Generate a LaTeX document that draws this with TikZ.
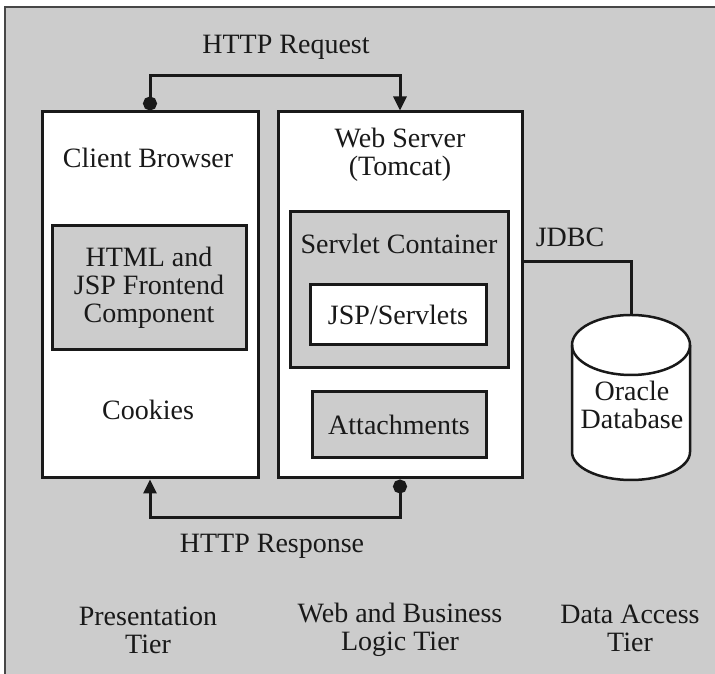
\documentclass[tikz,border=0pt]{standalone}
\usepackage{fontspec}
\setmainfont{Liberation Serif}
\usetikzlibrary{arrows.meta}
\definecolor{bggray}{RGB}{204,204,204}
\definecolor{ink}{RGB}{25,25,25}
\begin{document}
\begin{tikzpicture}[x=1pt,y=1pt,
  txt/.style={font=\fontsize{28}{28}\selectfont, text=ink, align=center, inner sep=0pt},
  bigbox/.style={draw=ink, line width=3pt, fill=white, rectangle, inner sep=0pt},
  graybox/.style={draw=ink, line width=3pt, fill=bggray, rectangle, inner sep=0pt},
  conn/.style={draw=ink, line width=3pt},
  dotarrow/.style={conn, {Circle[length=14pt]}-{Triangle[length=14pt,width=13pt]}}
]
\useasboundingbox (0,0) rectangle (715,674);
\fill[white] (0,0) rectangle (715,674);
\fill[bggray] (5,0) rectangle (715,667);
\draw[ink!80, line width=2pt] (5,0) -- (5,667) -- (715,667);

% main boxes
\node[bigbox, minimum width=216, minimum height=366] (client) at (150,379) {};
\node[bigbox, minimum width=244, minimum height=366] (web) at (400,379) {};

% client contents
\node[txt] (cbt) at (148,516) {Client Browser};
\node[graybox, minimum width=194, minimum height=124] (html) at (149,386) {};
\node[txt] at (html.center) {HTML and\\JSP Frontend\\Component};
\node[txt] (cookies) at (148,264) {Cookies};

% web server contents
\node[txt] (wst) at (400,519) {Web Server\\(Tomcat)};
\node[graybox, minimum width=218, minimum height=156] (servlet) at (399,384) {};
\node[txt] (sct) at (399,430) {Servlet Container};
\node[bigbox, minimum width=176, minimum height=60] (jsp) at (398,359) {};
\node[txt] at (jsp.center) {JSP/Servlets};
\node[graybox, minimum width=174, minimum height=66] (attach) at (399,249) {};
\node[txt] at (attach.center) {Attachments};

% database cylinder
\coordinate (dbtop) at (631,359);
\fill[white] (572,329) -- (572,222) arc (180:360:59 and 28) -- (690,329) arc (0:180:59 and 30) -- cycle;
\draw[ink, line width=2.5pt] (572,329) -- (572,222) arc (180:360:59 and 28) -- (690,329) arc (0:180:59 and 30) -- cycle;
\draw[ink, line width=2.5pt] (572,329) arc (180:360:59 and 30);
\node[txt] (db) at (632,269) {Oracle\\Database};

% connectors
\draw[dotarrow] (client.north) -- ++(0,35) -| (web.north);
\node[txt] (req) at (286,627) {HTTP Request};

\draw[dotarrow] (web.south) -- ++(0,-38) -| (client.south);
\node[txt] (resp) at (272,128) {HTTP Response};

\draw[conn] (web.east |- 0,412) -| (dbtop);
\node[txt] (jdbc) at (570,437) {JDBC};

% tier labels
\node[txt] (t1) at (148,44) {Presentation\\Tier};
\node[txt] (t2) at (400,44) {Web and Business\\Logic Tier};
\node[txt] (t3) at (630,46) {Data Access\\Tier};
\end{tikzpicture}
\end{document}
